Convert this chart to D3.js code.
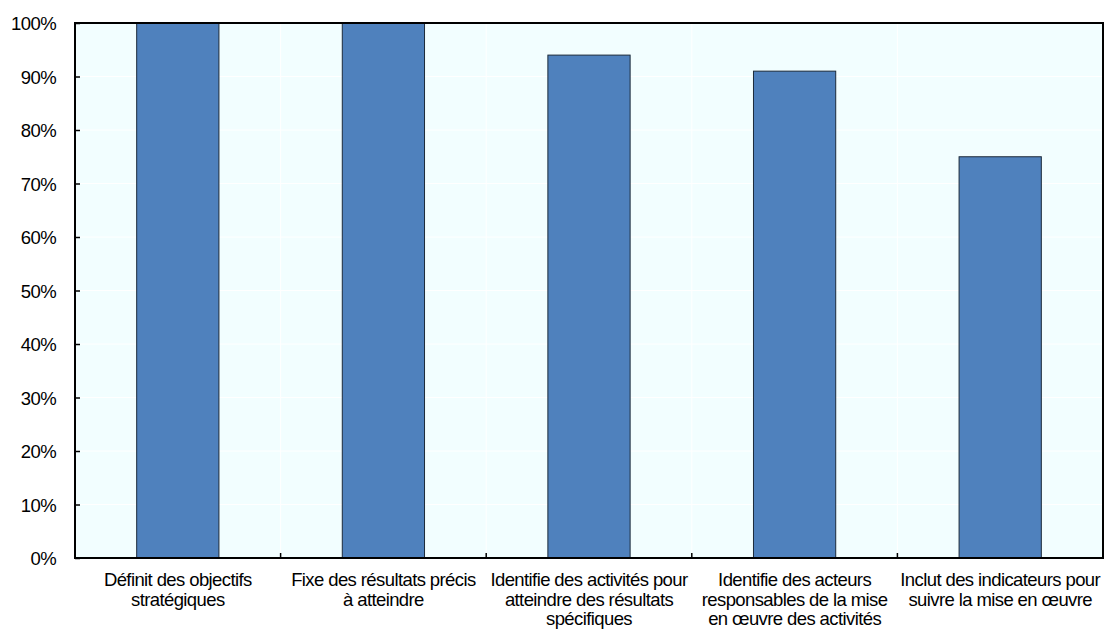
<!DOCTYPE html>
<html>
<head>
<meta charset="utf-8">
<script src="https://cdn.jsdelivr.net/npm/d3@7"></script>
<style>
  body { margin: 0; background: #fff; }
  svg text { font-family: "Liberation Sans", Arial, sans-serif; fill: #000; }
</style>
</head>
<body>
<svg id="chart" width="1105" height="638"></svg>
<script>
// Share of plans that include each element
const categories = [
  ["Définit des objectifs", "stratégiques"],
  ["Fixe des résultats précis", "à atteindre"],
  ["Identifie des activités pour", "atteindre des résultats", "spécifiques"],
  ["Identifie des acteurs", "responsables de la mise", "en œuvre des activités"],
  ["Inclut des indicateurs pour", "suivre la mise en œuvre"]
];
const values = [100, 100, 94, 91, 75];
const yTicks = [0, 10, 20, 30, 40, 50, 60, 70, 80, 90, 100];

const svg = d3.select("#chart");
const m = { left: 75, right: 2, top: 23, bottom: 80 };
const W = 1105, H = 638;
const x0 = m.left, x1 = W - m.right, y0 = H - m.bottom, y1 = m.top;
const FS = 18.5, LS = -0.6;

const keys = categories.map((d, i) => i);
const x = d3.scaleBand().domain(keys).range([x0, x1]).paddingInner(0).paddingOuter(0);
const y = d3.scaleLinear().domain([0, 100]).range([y0, y1]);

// plot background
svg.append("rect").attr("x", x0).attr("y", y1).attr("width", x1 - x0).attr("height", y0 - y1)
  .attr("fill", "#F2FEFF");

// faint white gridlines
svg.append("g").selectAll("line").data(yTicks.slice(1, -1)).join("line")
  .attr("x1", x0).attr("x2", x1).attr("y1", d => y(d)).attr("y2", d => y(d))
  .attr("stroke", "#fff").attr("stroke-width", 1);
svg.append("g").selectAll("line").data(keys.slice(1)).join("line")
  .attr("x1", d => x(d)).attr("x2", d => x(d)).attr("y1", y1).attr("y2", y0)
  .attr("stroke", "#fff").attr("stroke-width", 1);

// bars
const bw = x.bandwidth() * 0.4;
svg.append("g").selectAll("rect").data(values).join("rect")
  .attr("x", (d, i) => x(i) + (x.bandwidth() - bw) / 2)
  .attr("y", d => y(d))
  .attr("width", bw)
  .attr("height", d => y0 - y(d))
  .attr("fill", "#4F81BD")
  .attr("stroke", "#1C2A3A")
  .attr("stroke-width", 1);

// frame
svg.append("rect").attr("x", x0).attr("y", y1).attr("width", x1 - x0).attr("height", y0 - y1)
  .attr("fill", "none").attr("stroke", "#000").attr("stroke-width", 2);

// y axis: inward ticks
const yAxis = d3.axisRight(y).tickValues(yTicks).tickSize(5).tickFormat("");
const gy = svg.append("g").attr("transform", `translate(${x0},0)`).call(yAxis);
gy.select(".domain").remove();
gy.selectAll("line").attr("stroke", "#000").attr("stroke-width", 1.5);
svg.append("g").selectAll("text").data(yTicks).join("text")
  .attr("x", 56).attr("y", d => y(d) + 1).attr("dy", "0.35em")
  .attr("text-anchor", "end").attr("font-size", FS).attr("letter-spacing", LS)
  .text(d => d + "%");

// x axis: inward ticks at category boundaries
svg.append("g").selectAll("line").data(keys.slice(1)).join("line")
  .attr("x1", d => x(d)).attr("x2", d => x(d)).attr("y1", y0).attr("y2", y0 - 5)
  .attr("stroke", "#000").attr("stroke-width", 1.5);

// category labels
const lab = svg.append("g").selectAll("text").data(categories).join("text")
  .attr("x", (d, i) => x(i) + x.bandwidth() / 2)
  .attr("y", 586)
  .attr("text-anchor", "middle").attr("font-size", FS).attr("letter-spacing", LS);
lab.selectAll("tspan").data(d => d).join("tspan")
  .attr("x", function () { return this.parentNode.getAttribute("x"); })
  .attr("dy", (d, j) => j === 0 ? 0 : 19.5)
  .text(d => d);
</script>
</body>
</html>
